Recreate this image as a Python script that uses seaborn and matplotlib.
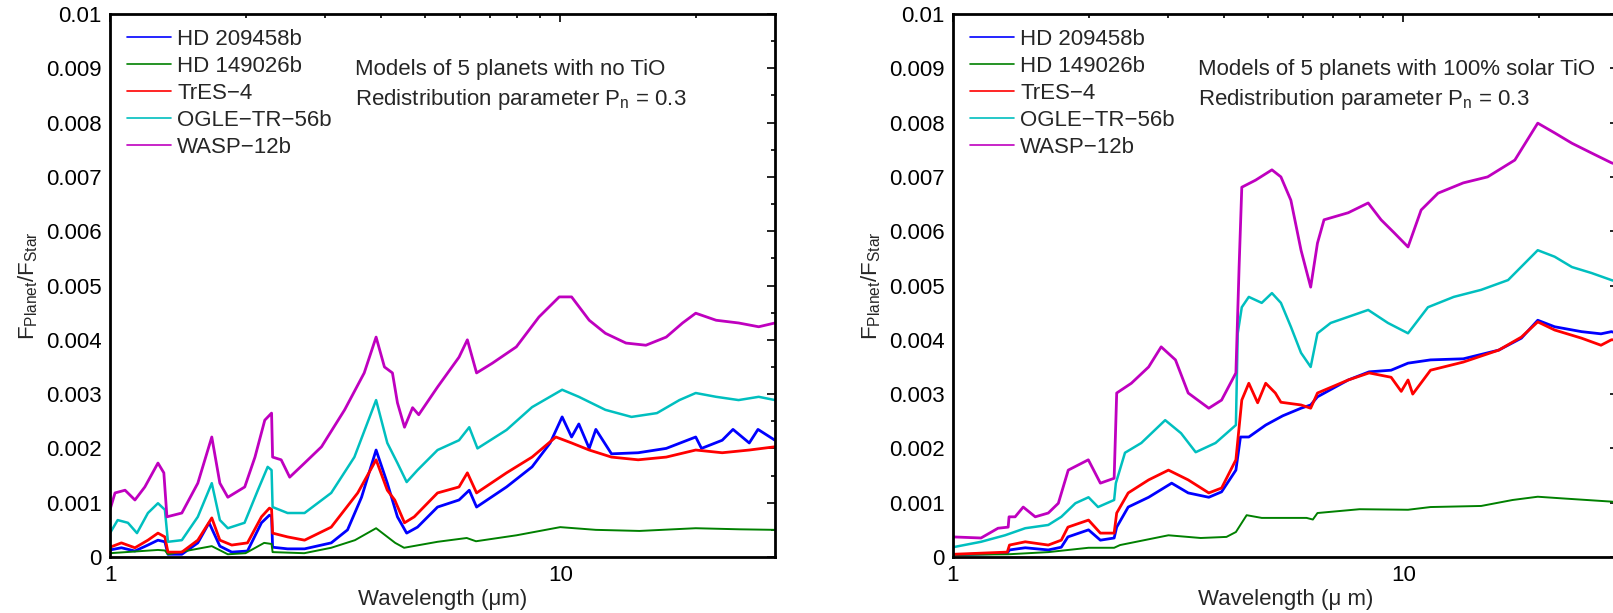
import matplotlib
matplotlib.use("Agg")
import matplotlib.pyplot as plt
import numpy as np
import pandas as pd
import seaborn as sns
from matplotlib.ticker import FixedLocator, FixedFormatter

# planet names in legend order (MATLAB default colours)
planets = ["HD 209458b", "HD 149026b", "TrES\u22124", "OGLE\u2212TR\u221256b", "WASP\u221212b"]
colors = [(0, 0, 1), (0, 0.5, 0), (1, 0, 0), (0, 0.75, 0.75), (0.75, 0, 0.75)]
widths = [2.0, 1.4, 2.0, 1.8, 2.0]

# ---- left panel: no TiO (flux ratio in units of 1e-3) ----
wl_hd209_l = [1.0, 1.06, 1.136, 1.214, 1.278, 1.324, 1.345, 1.444, 1.567, 1.66, 1.754, 1.864, 2.02, 2.17, 2.26,
              2.285, 2.297, 2.48, 2.705, 3.10, 3.37, 3.62, 3.90, 4.13, 4.35, 4.56, 4.82, 5.34, 5.96, 6.28, 6.52,
              7.60, 8.66, 9.5, 10.1, 10.6, 11.0, 11.6, 12.0, 13.0, 14.9, 17.2, 20.0, 20.6, 22.9, 24.2, 26.3,
              27.5, 30]
f_hd209_l = [0.13, 0.17, 0.11, 0.22, 0.31, 0.28, 0.05, 0.05, 0.26, 0.63, 0.20, 0.09, 0.11, 0.63, 0.77,
             0.75, 0.18, 0.15, 0.15, 0.26, 0.50, 1.10, 1.97, 1.36, 0.74, 0.44, 0.55, 0.92, 1.05, 1.23, 0.92,
             1.29, 1.66, 2.10, 2.58, 2.21, 2.45, 2.00, 2.35, 1.90, 1.92, 2.00, 2.21, 2.00, 2.15, 2.35, 2.10,
             2.35, 2.15]

wl_hd149_l = [1.0, 1.278, 1.324, 1.345, 1.683, 1.827, 2.0, 2.2, 2.285, 2.297, 2.7, 3.1, 3.5, 3.9, 4.3, 4.5,
              5.34, 6.2, 6.5, 8.0, 10.0, 12.0, 15.0, 20.0, 25.0, 30]
f_hd149_l = [0.07, 0.13, 0.12, 0.05, 0.20, 0.05, 0.07, 0.26, 0.24, 0.09, 0.07, 0.17, 0.31, 0.53, 0.26, 0.17,
             0.28, 0.35, 0.29, 0.40, 0.55, 0.50, 0.48, 0.53, 0.51, 0.50]

wl_tres_l = [1.0, 1.06, 1.136, 1.214, 1.278, 1.324, 1.345, 1.444, 1.567, 1.683, 1.754, 1.864, 2.02, 2.17, 2.26,
             2.285, 2.297, 2.48, 2.705, 3.10, 3.55, 3.90, 4.13, 4.29, 4.51, 4.74, 5.34, 5.96, 6.22, 6.52, 7.60,
             8.66, 9.78, 10.6, 11.6, 13.0, 14.9, 17.2, 20.0, 22.9, 26.3, 30]
f_tres_l = [0.18, 0.26, 0.17, 0.31, 0.44, 0.37, 0.09, 0.09, 0.31, 0.72, 0.31, 0.22, 0.26, 0.74, 0.90,
            0.88, 0.44, 0.37, 0.31, 0.55, 1.18, 1.79, 1.23, 1.05, 0.63, 0.74, 1.18, 1.29, 1.55, 1.18, 1.55,
            1.84, 2.21, 2.10, 1.97, 1.84, 1.79, 1.84, 1.97, 1.92, 1.97, 2.03]

wl_ogle_l = [1.0, 1.04, 1.096, 1.148, 1.214, 1.278, 1.324, 1.345, 1.444, 1.567, 1.683, 1.754, 1.827, 1.99, 2.13,
             2.24, 2.285, 2.297, 2.48, 2.705, 3.10, 3.49, 3.90, 4.13, 4.35, 4.56, 4.82, 5.34, 5.96, 6.28, 6.55,
             7.60, 8.66, 10.1, 11.0, 12.6, 14.4, 16.4, 18.4, 20.0, 22.2, 24.9, 27.6, 30]
f_ogle_l = [0.44, 0.68, 0.63, 0.44, 0.81, 0.99, 0.87, 0.28, 0.31, 0.74, 1.36, 0.68, 0.53, 0.63, 1.23,
            1.66, 1.60, 0.92, 0.81, 0.81, 1.18, 1.84, 2.89, 2.10, 1.73, 1.38, 1.60, 1.97, 2.15, 2.39, 2.00,
            2.34, 2.76, 3.08, 2.95, 2.71, 2.58, 2.65, 2.89, 3.02, 2.95, 2.89, 2.95, 2.89]

wl_wasp_l = [1.0, 1.026, 1.08, 1.136, 1.195, 1.278, 1.317, 1.338, 1.444, 1.567, 1.683, 1.754, 1.827, 1.992, 2.099,
             2.207, 2.285, 2.297, 2.40, 2.507, 2.705, 2.95, 3.32, 3.67, 3.90, 4.07, 4.24, 4.35, 4.51, 4.70, 4.85,
             5.34, 5.96, 6.22, 6.52, 7.07, 7.99, 8.97, 9.95, 10.6, 11.6, 12.6, 14.0, 15.5, 17.2, 18.7, 20.0,
             22.2, 24.9, 27.6, 30]
f_wasp_l = [0.87, 1.18, 1.23, 1.05, 1.29, 1.73, 1.55, 0.74, 0.81, 1.36, 2.21, 1.36, 1.10, 1.29, 1.84,
            2.52, 2.65, 1.84, 1.79, 1.47, 1.73, 2.03, 2.71, 3.39, 4.05, 3.50, 3.39, 2.84, 2.39, 2.75, 2.62,
            3.13, 3.68, 4.00, 3.39, 3.57, 3.87, 4.42, 4.79, 4.79, 4.36, 4.12, 3.94, 3.90, 4.05, 4.31, 4.49,
            4.36, 4.31, 4.24, 4.31]

# ---- right panel: 100% solar TiO (units of 1e-3) ----
wl_hd209_r = [1.0, 1.32, 1.335, 1.447, 1.628, 1.74, 1.80, 2.0, 2.125, 2.28, 2.31, 2.45, 2.72, 3.06, 3.33, 3.70,
              3.95, 4.25, 4.35, 4.54, 4.95, 5.4, 5.93, 6.23, 6.45, 7.55, 8.4, 9.4, 10.25, 11.5, 13.6, 16.3,
              18.3, 19.9, 21.7, 24.9, 27.5, 29.0, 30.5]
f_hd209_r = [0.04, 0.07, 0.13, 0.17, 0.13, 0.18, 0.37, 0.50, 0.31, 0.35, 0.55, 0.92, 1.10, 1.36, 1.18, 1.10,
             1.20, 1.60, 2.21, 2.21, 2.43, 2.60, 2.74, 2.80, 2.95, 3.26, 3.41, 3.44, 3.57, 3.63, 3.65, 3.81,
             4.03, 4.36, 4.24, 4.15, 4.11, 4.15, 4.10]

wl_hd149_r = [1.0, 1.326, 1.628, 2.0, 2.28, 2.35, 3.01, 3.55, 4.05, 4.25, 4.49, 4.85, 5.49, 6.1, 6.3, 6.45, 8.0,
              10.25, 11.5, 14.9, 17.5, 19.9, 22.5, 29.0, 30.5]
f_hd149_r = [0.04, 0.05, 0.09, 0.17, 0.17, 0.22, 0.40, 0.35, 0.37, 0.46, 0.77, 0.72, 0.72, 0.72, 0.69, 0.81, 0.88,
             0.87, 0.92, 0.94, 1.05, 1.11, 1.08, 1.02, 1.00]

wl_tres_r = [1.0, 1.32, 1.335, 1.447, 1.628, 1.74, 1.80, 2.0, 2.125, 2.28, 2.31, 2.45, 2.72, 3.01, 3.33, 3.70,
             3.95, 4.25, 4.38, 4.54, 4.75, 4.95, 5.2, 5.35, 5.93, 6.23, 6.45, 7.55, 8.4, 9.4, 9.9, 10.25, 10.5,
             11.5, 13.6, 16.3, 18.3, 19.9, 21.7, 24.9, 27.5, 29.0, 30.5]
f_tres_r = [0.05, 0.09, 0.22, 0.28, 0.22, 0.31, 0.55, 0.68, 0.44, 0.44, 0.81, 1.18, 1.42, 1.60, 1.42, 1.18,
            1.27, 1.79, 2.89, 3.20, 2.84, 3.20, 3.02, 2.85, 2.80, 2.74, 3.02, 3.26, 3.39, 3.31, 3.05, 3.26, 3.00,
            3.44, 3.59, 3.81, 4.05, 4.33, 4.18, 4.03, 3.90, 4.00, 4.00]

wl_ogle_r = [1.0, 1.154, 1.305, 1.447, 1.628, 1.74, 1.87, 2.0, 2.10, 2.28, 2.30, 2.41, 2.62, 2.96, 3.21, 3.46,
             3.83, 4.25, 4.29, 4.38, 4.54, 4.85, 5.11, 5.35, 5.63, 5.93, 6.23, 6.45, 6.9, 8.36, 9.25, 10.25,
             11.35, 12.95, 14.9, 17.1, 19.9, 21.7, 23.7, 26.2, 29.0, 30.5]
f_ogle_r = [0.18, 0.28, 0.40, 0.53, 0.59, 0.74, 0.99, 1.10, 0.92, 1.05, 1.36, 1.92, 2.10, 2.52, 2.28, 1.93,
            2.10, 2.43, 4.12, 4.60, 4.79, 4.68, 4.86, 4.68, 4.24, 3.76, 3.50, 4.12, 4.31, 4.55, 4.31, 4.12,
            4.60, 4.79, 4.92, 5.10, 5.65, 5.53, 5.34, 5.23, 5.10, 5.05]

wl_wasp_r = [1.0, 1.154, 1.259, 1.326, 1.332, 1.374, 1.432, 1.523, 1.628, 1.714, 1.803, 1.998, 2.125, 2.28, 2.31,
             2.49, 2.72, 2.90, 3.12, 3.33, 3.70, 3.95, 4.25, 4.32, 4.38, 4.70, 5.11, 5.35, 5.63, 5.93, 6.23,
             6.45, 6.67, 7.55, 8.36, 8.93, 9.55, 10.25, 10.96, 11.95, 13.6, 15.4, 17.7, 19.9, 21.7, 23.7, 26.2,
             29.0, 30.5]
f_wasp_r = [0.37, 0.35, 0.53, 0.55, 0.74, 0.74, 0.92, 0.74, 0.81, 0.99, 1.60, 1.79, 1.36, 1.45, 3.02,
            3.20, 3.50, 3.87, 3.63, 3.02, 2.74, 2.89, 3.39, 5.34, 6.81, 6.94, 7.13, 7.00, 6.57, 5.65, 4.97,
            5.78, 6.21, 6.34, 6.52, 6.21, 5.97, 5.71, 6.39, 6.70, 6.89, 7.00, 7.31, 7.99, 7.81, 7.62, 7.44,
            7.26, 7.20]

left_wl = [wl_hd209_l, wl_hd149_l, wl_tres_l, wl_ogle_l, wl_wasp_l]
left_f = [f_hd209_l, f_hd149_l, f_tres_l, f_ogle_l, f_wasp_l]
right_wl = [wl_hd209_r, wl_hd149_r, wl_tres_r, wl_ogle_r, wl_wasp_r]
right_f = [f_hd209_r, f_hd149_r, f_tres_r, f_ogle_r, f_wasp_r]

titles = ["Models of 5 planets with no TiO", "Models of 5 planets with 100% solar TiO"]
xlabels = ["Wavelength (\u03bcm)", "Wavelength (\u03bc m)"]

sns.set_theme(style="white")
plt.rcParams["font.family"] = ["Liberation Sans", "DejaVu Sans"]
plt.rcParams["mathtext.fontset"] = "custom"
plt.rcParams["mathtext.rm"] = "Liberation Sans"
plt.rcParams["mathtext.it"] = "Liberation Sans"
fs_txt = 16

fig = plt.figure(figsize=(16.13, 6.13), dpi=100)
ax_l = fig.add_axes([110 / 1613, 56 / 613, 665 / 1613, 543 / 613])
ax_r = fig.add_axes([953 / 1613, 56 / 613, 665 / 1613, 543 / 613])

for ax, wls, fs, title, xl in [(ax_l, left_wl, left_f, titles[0], xlabels[0]),
                               (ax_r, right_wl, right_f, titles[1], xlabels[1])]:
    for name, col, lw, wl, f in zip(planets, colors, widths, wls, fs):
        df = pd.DataFrame({"wavelength": wl, "ratio": np.array(f) * 1e-3})
        sns.lineplot(data=df, x="wavelength", y="ratio", color=col, linewidth=lw, label=name,
                     estimator=None, sort=False, ax=ax)
    ax.set_xscale("log")
    ax.set_xlim(1, 30)
    ax.set_ylim(0, 0.01)

    ax.xaxis.set_major_locator(FixedLocator([1, 10]))
    ax.xaxis.set_major_formatter(FixedFormatter(["1", "10"]))
    ax.xaxis.set_minor_locator(FixedLocator([2, 3, 4, 5, 6, 7, 8, 9, 20]))
    ax.xaxis.set_minor_formatter(FixedFormatter([]))
    yt = np.round(np.arange(0, 0.0101, 0.001), 4)
    ax.set_yticks(yt)
    ax.set_yticklabels([f"{v:g}" for v in yt])
    ax.set_yticks(np.round(np.arange(0.0005, 0.01, 0.001), 5), minor=True)
    ax.tick_params(which="both", direction="in", top=True, right=True, labelsize=fs_txt, colors="black",
                   width=1.2)
    ax.tick_params(which="major", length=6, pad=6)
    ax.tick_params(which="minor", length=3)
    for sp in ax.spines.values():
        sp.set_linewidth(2)
        sp.set_color("black")

    ax.set_xlabel(xl, fontsize=fs_txt, labelpad=2)
    ax.set_ylabel(r"F$_{\mathregular{Planet}}$/F$_{\mathregular{Star}}$", fontsize=fs_txt, labelpad=4)

    ax.text(0.368, 0.897, title, transform=ax.transAxes, fontsize=fs_txt, va="center", ha="left")
    ax.text(0.368, 0.842, r"Redistribution parameter P$_{\mathregular{n}}$ = 0.3", transform=ax.transAxes,
            fontsize=fs_txt, va="center", ha="left")

    leg = ax.legend(loc="upper left", bbox_to_anchor=(0.026, 0.972), frameon=False, fontsize=fs_txt,
                    handlelength=1.95, handletextpad=0.3, labelspacing=0.27, borderpad=0, borderaxespad=0)
    for h in leg.get_lines():
        h.set_linewidth(1.2)

fig.savefig("out.png", dpi=100)
